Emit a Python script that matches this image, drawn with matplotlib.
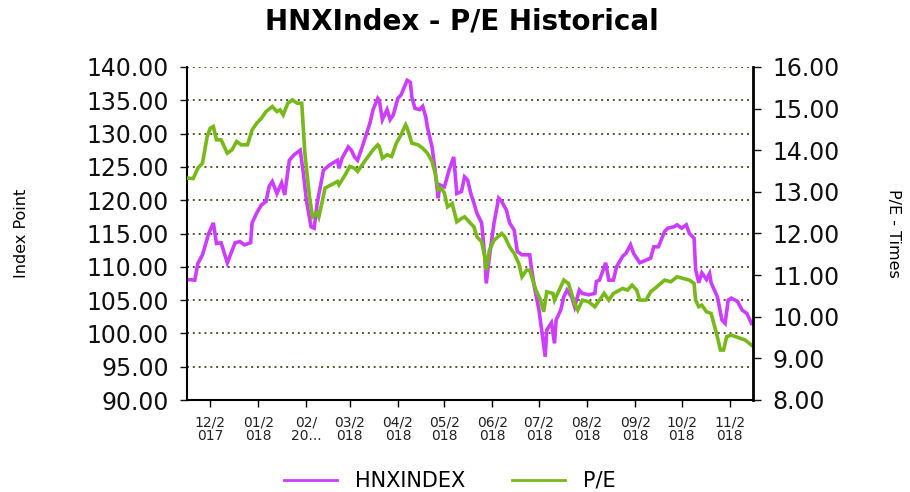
import pandas as pd
import matplotlib
matplotlib.use('Agg')
import matplotlib.pyplot as plt
import matplotlib.ticker as ticker
from matplotlib.lines import Line2D

plt.rcParams['font.family'] = 'DejaVu Sans'

start = pd.Timestamp('2017-11-16')

# HNX index (dias desde start, valor)
hnx_dia = [0, 5, 7, 10, 14, 17, 19, 22, 26, 31, 34, 37, 41, 42, 45, 48, 51, 53, 55, 58,
           61, 63, 66, 69, 73, 75, 77, 80, 82, 84, 88, 92, 97, 98, 100, 104, 106, 108, 110, 113,
           118, 120, 123, 124, 126, 129, 131, 133, 136, 138, 142, 144, 145, 147, 150, 152, 154, 155, 158, 160,
           162, 163, 166, 169, 172, 174, 177, 179, 181, 183, 185, 187, 190, 192, 193, 195, 198, 201, 203, 206,
           208, 211, 213, 216, 221, 222, 224, 227, 229, 231, 232, 235, 237, 238, 241, 243, 245, 248, 250, 253,
           255, 259, 263, 264, 266, 270, 272, 275, 277, 281, 283, 286, 288, 292, 296, 299, 301, 304, 308, 310,
           314, 316, 319, 322, 324, 327, 328, 330, 332, 335, 337, 338, 342, 345, 347, 349, 351, 355, 358, 361, 364]
hnx_valor = [108.1, 108.0, 110.5, 111.8, 115.0, 116.6, 113.5, 113.6, 110.6, 113.6, 113.8, 113.3, 113.6, 116.6, 118.1, 119.3, 119.8, 122.1, 122.8, 121.0,
             122.6, 120.8, 126.0, 126.8, 127.5, 124.1, 120.0, 116.0, 115.8, 119.6, 124.5, 125.3, 126.0, 124.8, 126.3, 128.0, 127.5, 126.5, 126.0, 128.0,
             131.6, 133.6, 135.3, 135.0, 132.1, 133.6, 132.1, 132.8, 135.3, 135.8, 138.0, 137.7, 135.5, 133.8, 133.6, 134.1, 132.5, 131.0, 128.0, 124.5,
             120.3, 122.3, 122.0, 124.5, 126.5, 121.0, 121.3, 123.5, 123.0, 121.0, 119.6, 118.0, 116.6, 111.6, 107.5, 111.5, 116.6, 120.3, 119.8, 118.5,
             116.6, 115.5, 112.3, 111.8, 111.8, 110.0, 107.0, 103.5, 100.0, 96.5, 100.5, 101.6, 98.5, 102.0, 103.5, 105.5, 106.5, 105.5, 104.0, 106.5,
             106.0, 105.8, 106.0, 107.8, 108.0, 110.6, 108.0, 108.0, 110.0, 111.6, 112.0, 113.3, 112.0, 110.6, 111.0, 111.3, 113.0, 113.0, 115.3, 115.8,
             116.0, 116.3, 115.8, 116.3, 115.0, 114.3, 109.6, 107.6, 109.1, 108.1, 109.0, 107.6, 105.5, 102.0, 101.5, 105.0, 105.3, 104.8, 103.5, 103.0, 101.5]

# P/E
pe_dia = [0, 4, 7, 10, 13, 15, 17, 19, 22, 26, 29, 32, 35, 39, 42, 45, 48, 51, 55, 58,
          60, 62, 65, 68, 71, 74, 76, 79, 81, 84, 85, 87, 89, 93, 97, 98, 102, 105, 108, 110,
          113, 116, 120, 123, 124, 126, 129, 132, 135, 138, 141, 142, 145, 149, 152, 155, 158, 160, 162, 164,
          166, 168, 171, 174, 177, 179, 182, 185, 187, 190, 192, 193, 195, 198, 203, 205, 208, 211, 214, 216,
          219, 221, 223, 225, 228, 230, 232, 236, 237, 240, 243, 246, 250, 252, 255, 259, 263, 266, 269, 272,
          275, 281, 284, 287, 290, 292, 296, 299, 303, 308, 312, 316, 320, 324, 327, 328, 330, 332, 335, 338,
          342, 344, 346, 348, 351, 354, 357, 360, 364]
pe_valor = [13.33, 13.32, 13.57, 13.69, 14.33, 14.53, 14.57, 14.25, 14.25, 13.93, 14.01, 14.21, 14.13, 14.13, 14.49, 14.65, 14.77, 14.93, 15.05, 14.93,
            14.97, 14.85, 15.13, 15.21, 15.13, 15.13, 13.93, 12.88, 12.40, 12.50, 12.40, 12.73, 13.09, 13.17, 13.25, 13.17, 13.41, 13.61, 13.57, 13.49,
            13.65, 13.81, 14.01, 14.13, 14.09, 13.81, 13.89, 13.85, 14.17, 14.37, 14.61, 14.53, 14.17, 14.13, 14.05, 13.93, 13.73, 13.45, 13.05, 13.09,
            12.97, 12.64, 12.72, 12.28, 12.36, 12.40, 12.28, 12.16, 11.92, 11.80, 11.44, 11.12, 11.60, 11.84, 12.00, 11.92, 11.68, 11.52, 11.28, 10.96,
            11.12, 11.12, 10.88, 10.64, 10.40, 10.12, 10.60, 10.56, 10.40, 10.64, 10.88, 10.80, 10.32, 10.16, 10.40, 10.36, 10.24, 10.40, 10.56, 10.40,
            10.56, 10.68, 10.64, 10.76, 10.64, 10.40, 10.40, 10.60, 10.72, 10.88, 10.84, 10.96, 10.92, 10.88, 10.80, 10.40, 10.24, 10.28, 10.12, 10.08,
            9.52, 9.20, 9.20, 9.52, 9.56, 9.52, 9.48, 9.44, 9.32]

meses = ['2017-12-01', '2018-01-01', '2018-02-01', '2018-03-01', '2018-04-01', '2018-05-01',
         '2018-06-01', '2018-07-01', '2018-08-01', '2018-09-01', '2018-10-01', '2018-11-01']
meses_labels = ['12/2\n017', '01/2\n018', '02/\n20...', '03/2\n018', '04/2\n018', '05/2\n018',
                '06/2\n018', '07/2\n018', '08/2\n018', '09/2\n018', '10/2\n018', '11/2\n018']

df_hnx = pd.DataFrame({'data': start + pd.to_timedelta(hnx_dia, unit='D'), 'valor': hnx_valor})
df_pe = pd.DataFrame({'data': start + pd.to_timedelta(pe_dia, unit='D'), 'valor': pe_valor})

cor_hnx = '#cc3dff'
cor_pe = '#78b91a'

fig = plt.figure(figsize=(9.1, 4.92), dpi=100)
ax = fig.add_axes([187/910, 1-400/492, 566/910, 333/492])
ax.plot(df_hnx['data'], df_hnx['valor'], color=cor_hnx, linewidth=2.6, solid_joinstyle='miter')
ax.set_ylim(90, 140)
ax.set_xlim(start, start + pd.Timedelta(days=365))
ax.yaxis.set_major_locator(ticker.MultipleLocator(5))
ax.yaxis.set_major_formatter(ticker.FormatStrFormatter('%.2f'))
ax.grid(axis='y', color='#555533', linestyle=(0, (1, 2)), linewidth=1.4)
ax.set_xticks(pd.to_datetime(meses))
ax.set_xticklabels(meses_labels, fontsize=10, linespacing=0.95, color='#222222')
ax.tick_params(axis='y', labelsize=17, length=5, width=1, pad=8, colors='#111111')
ax.tick_params(axis='x', length=5, width=1, pad=6)
ax.spines['top'].set_visible(False)
ax.spines['right'].set_visible(False)
ax.spines['left'].set_linewidth(1.5)
ax.spines['bottom'].set_linewidth(1.5)

ax2 = ax.twinx()
ax2.plot(df_pe['data'], df_pe['valor'], color=cor_pe, linewidth=2.6, solid_joinstyle='miter')
ax2.set_ylim(8, 16)
ax2.yaxis.set_major_locator(ticker.MultipleLocator(1))
ax2.yaxis.set_major_formatter(ticker.FormatStrFormatter('%.2f'))
ax2.tick_params(axis='y', labelsize=17, length=6, width=1, pad=8, colors='#111111')
for s in ['top', 'left', 'bottom']:
    ax2.spines[s].set_visible(False)
ax2.spines['right'].set_linewidth(2)

fig.text(462/910, 1-21/492, 'HNXIndex - P/E Historical', ha='center', va='center',
         fontsize=20, fontweight='bold')
fig.text(22/910, 1-233/492, 'Index Point', rotation=90, ha='center', va='center', fontsize=11.5)
fig.text(893/910, 1-233/492, 'P/E - Times', rotation=270, ha='center', va='center', fontsize=11.5)

handles = [Line2D([], [], color=cor_hnx, linewidth=2), Line2D([], [], color=cor_pe, linewidth=2)]
fig.legend(handles, ['HNXINDEX', 'P/E'], loc='center', bbox_to_anchor=(450/910, 1-481/492),
           ncol=2, frameon=False, fontsize=15, handlelength=2.55, handletextpad=0.85, columnspacing=2.25)

fig.savefig('out.png', dpi=100)
